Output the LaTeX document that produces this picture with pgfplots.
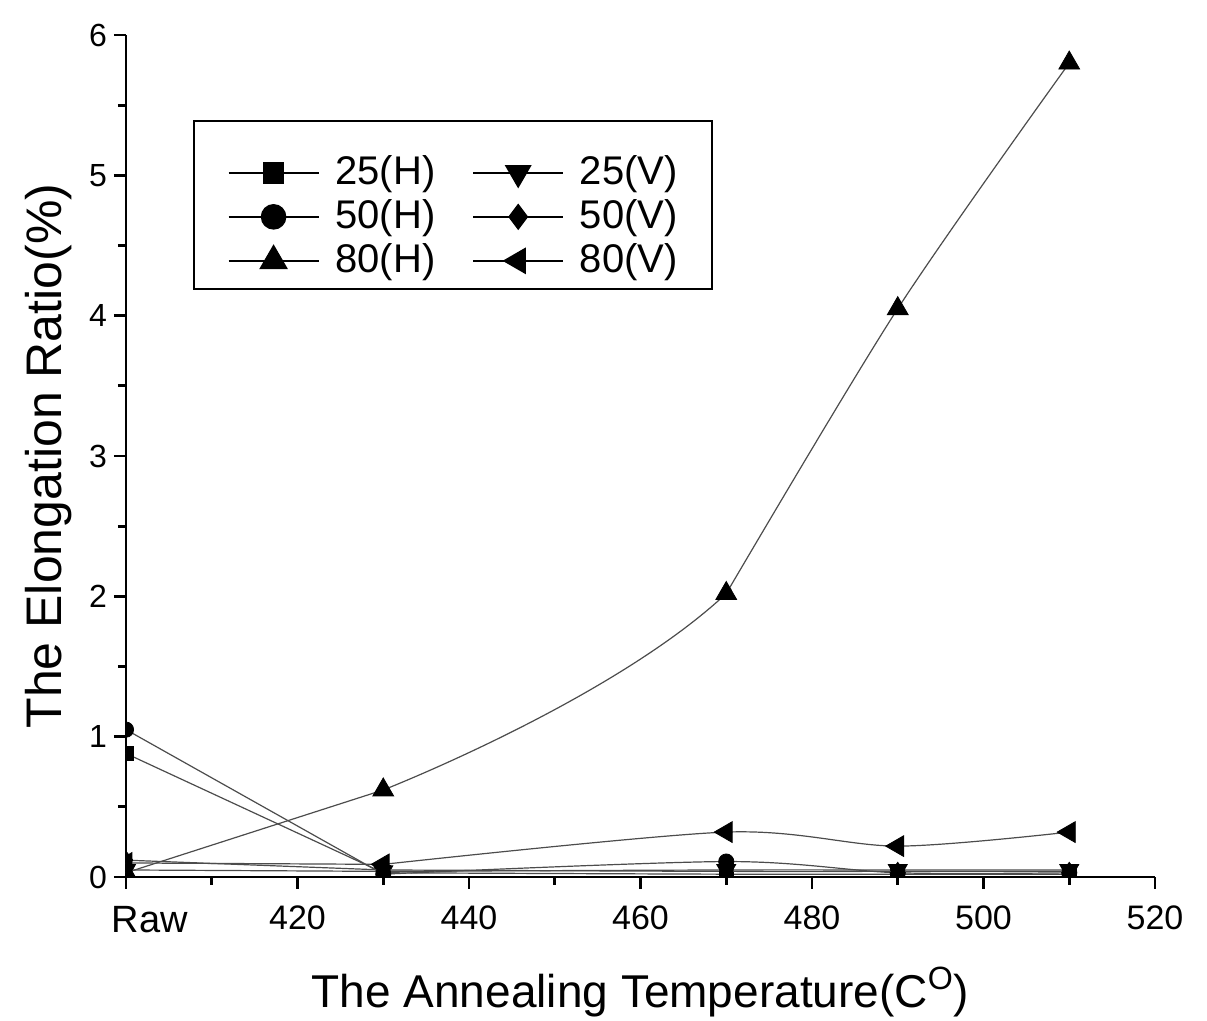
\documentclass[border=0pt]{standalone}
\usepackage{pgfplots}
\pgfplotsset{compat=1.18}
\usepackage{fontspec}
\setmainfont{Liberation Sans}
\pgfplotsset{
  ser/.style={black!70, line width=0.6pt, mark=none},
  mk/.style={only marks, black, mark options={solid, fill=black}},
  leg/.style={black, line width=0.8pt, mark options={solid, fill=black}},
}
\begin{document}
\begin{tikzpicture}
\useasboundingbox (-63pt,-72pt) rectangle (540.5pt,438.5pt);
\begin{axis}[
  at={(0,0)}, anchor=south west,
  scale only axis, width=514.5pt, height=421pt,
  xmin=400, xmax=520, ymin=0, ymax=6,
  axis x line*=bottom, axis y line*=left,
  axis line style={line width=1.4pt},
  tick style={line width=1.4pt, black},
  tick align=outside,
  major tick length=6pt, minor tick length=4pt,
  xtick={400,420,440,460,480,500,520},
  xticklabels={{\makebox[0pt][l]{\hspace{-7pt}\fontsize{19}{22}\selectfont Raw}},420,440,460,480,500,520},
  minor x tick num=1,
  ytick={0,1,2,3,4,5,6}, minor y tick num=1,
  /pgf/number format/assume math mode=true,
  x tick label style={font=\fontsize{17}{20}\selectfont, yshift=-5pt},
  y tick label style={font=\fontsize{16}{20}\selectfont},
  xlabel={The Annealing Temperature(C\textsuperscript{O})},
  ylabel={The Elongation Ratio(\%)},
  xlabel style={font=\fontsize{23}{28}\selectfont, at={(axis description cs:0.5,-0.1556)}, anchor=base},
  ylabel style={font=\fontsize{25}{30}\selectfont, at={(axis description cs:-0.0622,0.5)}, anchor=base},
  clip marker paths=true,
  legend columns=2,
  legend image code/.code={\draw[yshift=-6pt, mark repeat=2,mark phase=2] plot coordinates {(0pt,0pt) (22.5pt,0pt) (45pt,0pt)};},
  legend style={at={(0.0651,0.899)}, anchor=north west, draw=black, line width=0.8pt,
    font=\fontsize{20}{24}\selectfont, inner xsep=17pt, inner ysep=5pt,
    nodes={inner sep=0pt, text height=27pt, text depth=3pt},
    row sep=-8pt,
    /tikz/every odd column/.append style={column sep=8pt},
    /tikz/every even column/.append style={column sep=18.5pt}},
]
% legend images
\addlegendimage{leg, mark=square*, mark size=5pt}
\addlegendimage{leg, mark=triangle*, mark size=7pt, mark options={rotate=180}}
\addlegendimage{leg, mark=*, mark size=6pt}
\addlegendimage{leg, mark=diamond*, mark size=6pt}
\addlegendimage{leg, mark=triangle*, mark size=7.5pt}
\addlegendimage{leg, mark=triangle*, mark size=7pt, mark options={rotate=90}}
\legend{25(H),25(V),50(H),50(V),80(H),80(V)}

% 25(H)
\addplot[ser, forget plot] coordinates {(400,0.88) (430,0.03)};
\addplot[ser, smooth, forget plot] coordinates {(430,0.03) (470,0.02) (490,0.02) (510,0.02)};
\addplot[mk, mark=square*, mark size=3.5pt, forget plot] coordinates {(400,0.88) (430,0.03) (470,0.02) (490,0.02) (510,0.02)};
% 25(V)
\addplot[ser, forget plot] coordinates {(400,0.05) (430,0.04)};
\addplot[ser, smooth, forget plot] coordinates {(430,0.04) (470,0.05) (490,0.05) (510,0.05)};
\addplot[mk, mark=triangle*, mark size=5.5pt, mark options={rotate=180}, forget plot] coordinates {(400,0.05) (430,0.04) (470,0.05) (490,0.05) (510,0.05)};
% 50(H)
\addplot[ser, forget plot] coordinates {(400,1.05) (430,0.02)};
\addplot[ser, smooth, forget plot] coordinates {(430,0.02) (470,0.11) (490,0.03) (510,0.03)};
\addplot[mk, mark=*, mark size=3.8pt, forget plot] coordinates {(400,1.05) (430,0.02) (470,0.11) (490,0.03) (510,0.03)};
% 50(V)
\addplot[ser, forget plot] coordinates {(400,0.12) (430,0.05)};
\addplot[ser, smooth, forget plot] coordinates {(430,0.05) (470,0.04) (490,0.04) (510,0.04)};
\addplot[mk, mark=diamond*, mark size=4.5pt, forget plot] coordinates {(400,0.12) (430,0.05) (470,0.04) (490,0.04) (510,0.04)};
% 80(H)
\addplot[ser, forget plot] coordinates {(400,0.03) (430,0.62)};
\addplot[ser, smooth, tension=0.8, dash pattern=on 202pt off 2000pt, forget plot] coordinates {(430,0.62) (470,2.02) (490,4.05)};
\addplot[ser, smooth, forget plot] coordinates {(470,2.02) (490,4.05) (510,5.80)};
\addplot[mk, mark=triangle*, mark size=6pt, forget plot] coordinates {(400,0.03) (430,0.62) (470,2.02) (490,4.05) (510,5.80)};
% 80(V)
\addplot[ser, forget plot] coordinates {(400,0.10) (430,0.09)};
\addplot[ser, smooth, forget plot] coordinates {(430,0.09) (470,0.32) (490,0.22) (510,0.32)};
\addplot[mk, mark=triangle*, mark size=6pt, mark options={rotate=90}, forget plot] coordinates {(400,0.10) (430,0.09) (470,0.32) (490,0.22) (510,0.32)};
\end{axis}
\end{tikzpicture}
\end{document}
